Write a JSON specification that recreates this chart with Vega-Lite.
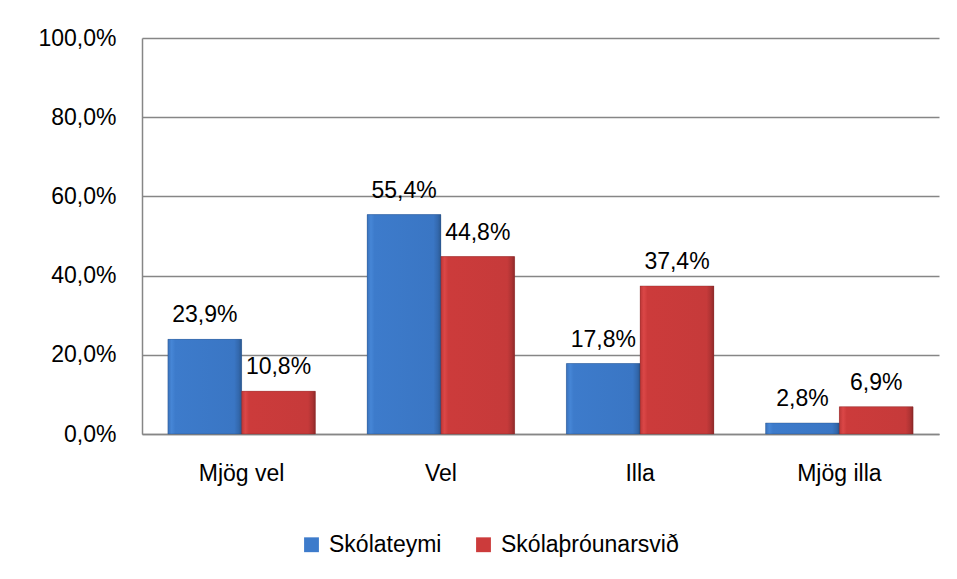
{
  "$schema": "https://vega.github.io/schema/vega-lite/v6.json",
  "width": 797,
  "height": 396,
  "autosize": {"type": "none"},
  "padding": {"left": 142, "top": 38, "right": 18, "bottom": 145},
  "background": "white",
  "config": {
    "locale": {"number": {"decimal": ",", "thousands": ".", "grouping": [3], "currency": ["", " kr"]}},
    "font": "Liberation Sans",
    "view": {"stroke": null},
    "axis": {"labelFont": "Liberation Sans", "labelFontSize": 23, "labelColor": "black", "domainColor": "#868686", "gridColor": "#868686", "ticks": false, "title": null, "labelOverlap": false}
  },
  "data": {
    "values": [
      {"svar": "Mjög vel", "hopur": "Skólateymi", "hlutfall": 0.239},
      {"svar": "Mjög vel", "hopur": "Skólaþróunarsvið", "hlutfall": 0.108},
      {"svar": "Vel", "hopur": "Skólateymi", "hlutfall": 0.554},
      {"svar": "Vel", "hopur": "Skólaþróunarsvið", "hlutfall": 0.448},
      {"svar": "Illa", "hopur": "Skólateymi", "hlutfall": 0.178},
      {"svar": "Illa", "hopur": "Skólaþróunarsvið", "hlutfall": 0.374},
      {"svar": "Mjög illa", "hopur": "Skólateymi", "hlutfall": 0.028},
      {"svar": "Mjög illa", "hopur": "Skólaþróunarsvið", "hlutfall": 0.069}
    ]
  },
  "encoding": {
    "x": {"field": "svar", "type": "nominal", "sort": ["Mjög vel", "Vel", "Illa", "Mjög illa"],
      "scale": {"paddingInner": 0.26, "paddingOuter": 0.13},
      "axis": {"labelAngle": 0, "labelPadding": 28, "domainWidth": 1.5}},
    "xOffset": {"field": "hopur", "type": "nominal", "sort": ["Skólateymi", "Skólaþróunarsvið"], "scale": {"domain": ["Skólateymi", "Skólaþróunarsvið"]}},
    "y": {"field": "hlutfall", "type": "quantitative",
      "scale": {"domain": [0, 1]},
      "axis": {"format": ".1%", "values": [0, 0.2, 0.4, 0.6, 0.8, 1], "labelPadding": 26, "gridWidth": 1.5, "domainWidth": 1.5, "labelFlush": false}}
  },
  "layer": [
    {
      "mark": {"type": "bar"},
      "encoding": {
        "color": {"field": "hopur", "type": "nominal", "sort": ["Skólateymi", "Skólaþróunarsvið"],
          "scale": {"range": ["#3d7bcb", "#cc3b3b"]},
          "legend": {"title": null, "orient": "none", "legendX": 158, "legendY": 495, "direction": "horizontal", "symbolType": "square", "symbolSize": 220, "symbolStrokeWidth": 0, "labelFontSize": 23, "labelFont": "Liberation Sans", "labelColor": "black", "columnPadding": 30, "labelOffset": 6, "labelLimit": 400}}
      }
    },
    {
      "transform": [{"filter": "datum.hopur === 'Skólateymi'"}],
      "mark": {"type": "bar", "stroke": "#1f3f6b", "strokeWidth": 0.6, "strokeOpacity": 0.5,
        "color": {"gradient": "linear", "x1": 0, "y1": 0, "x2": 1, "y2": 0, "stops": [
          {"offset": 0, "color": "#3a72bb"}, {"offset": 0.05, "color": "#4686d6"}, {"offset": 0.1, "color": "#3d7bcb"}, {"offset": 0.9, "color": "#3a76c4"}, {"offset": 0.96, "color": "#3368ad"}, {"offset": 1, "color": "#2a5890"}]}}
    },
    {
      "transform": [{"filter": "datum.hopur === 'Skólaþróunarsvið'"}],
      "mark": {"type": "bar", "stroke": "#6b1f1f", "strokeWidth": 0.6, "strokeOpacity": 0.5,
        "color": {"gradient": "linear", "x1": 0, "y1": 0, "x2": 1, "y2": 0, "stops": [
          {"offset": 0, "color": "#bd3737"}, {"offset": 0.05, "color": "#db4747"}, {"offset": 0.1, "color": "#cc3b3b"}, {"offset": 0.9, "color": "#c63a3a"}, {"offset": 0.96, "color": "#ad3333"}, {"offset": 1, "color": "#8e2a2a"}]}}
    },
    {
      "mark": {"type": "text", "baseline": "bottom", "dy": -12, "fontSize": 23, "font": "Liberation Sans", "color": "black"},
      "encoding": {"text": {"field": "hlutfall", "type": "quantitative", "format": ".1%"}}
    }
  ]
}
